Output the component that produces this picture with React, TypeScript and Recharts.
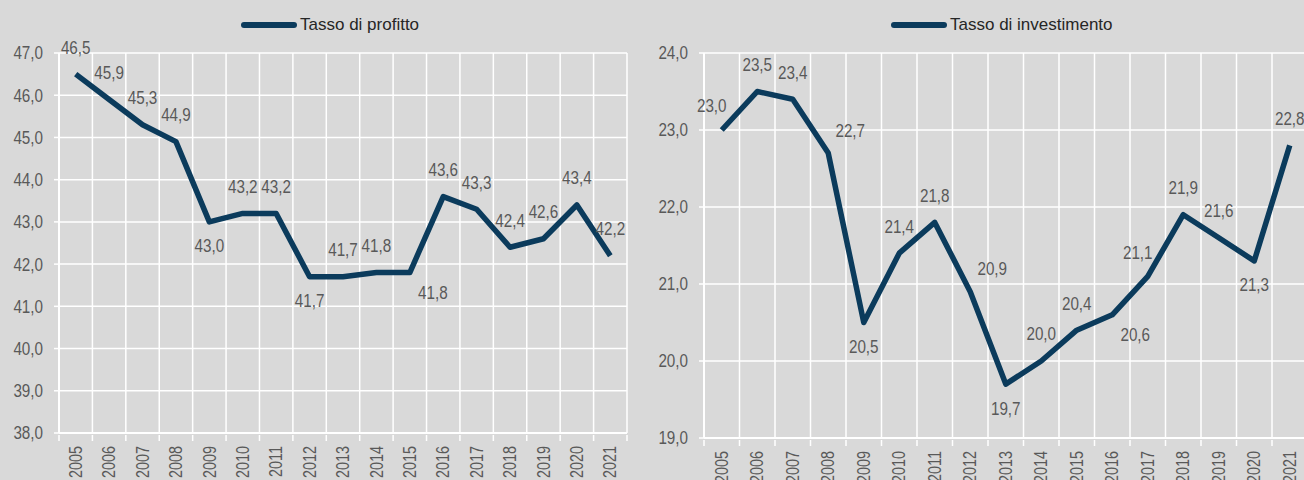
import React from 'react';
import { LineChart, Line, XAxis, YAxis, CartesianGrid } from 'recharts';

const years = ['2005', '2006', '2007', '2008', '2009', '2010', '2011', '2012', '2013', '2014', '2015', '2016', '2017', '2018', '2019', '2020', '2021'];
const profitValues = [46.5, 45.9, 45.3, 44.9, 43.0, 43.2, 43.2, 41.7, 41.7, 41.8, 41.8, 43.6, 43.3, 42.4, 42.6, 43.4, 42.2];
const investValues = [23.0, 23.5, 23.4, 22.7, 20.5, 21.4, 21.8, 20.9, 19.7, 20.0, 20.4, 20.6, 21.1, 21.9, 21.6, 21.3, 22.8];
const profitTicks = [38, 39, 40, 41, 42, 43, 44, 45, 46, 47];
const investTicks = [19, 20, 21, 22, 23, 24];

// where Excel put each data label
const profitLabelPos = ['top', 'top', 'top', 'top', 'bottom', 'top', 'top', 'bottom', 'top', 'top', 'br', 'top', 'top', 'top', 'top', 'top', 'top'];
const investLabelPos = ['tl', 'top', 'top', 'tr', 'bottom', 'top', 'top', 'tr', 'bottom', 'top', 'top', 'br', 'tl', 'top', 'top', 'bottom', 'top'];

const BG = '#d9d9d9';
const LINE = '#0b3b5c';
const TXT = '#595959';
const FONT = "'Liberation Sans', Arial, sans-serif";
// the original uses a narrow face; squeeze the regular one
const NARROW = 0.87;

const fmt = (v: number) => v.toFixed(1).replace('.', ',');

const offsets: Record<string, [number, number]> = {
    top: [0, -27],
    bottom: [0, 24],
    tl: [-10, -24],
    tr: [22, -23],
    br: [23, 20],
};

const makeLabel = (pos: string[]) => (props: any) => {
    const { x, y, value, index } = props;
    const [dx, dy] = offsets[pos[index]] || offsets.top;
    return (
        <text
            key={`lbl-${index}`}
            transform={`translate(${x + dx}, ${y + dy}) scale(${NARROW}, 1)`}
            textAnchor="middle"
            dominantBaseline="central"
            fontSize={17.5}
            fontFamily={FONT}
            fill={TXT}
        >
            {fmt(value)}
        </text>
    );
};

const ValueTick = (props: any) => {
    const { x, y, payload } = props;
    return (
        <text
            transform={`translate(${x}, ${y}) scale(${NARROW}, 1)`}
            textAnchor="end"
            dominantBaseline="central"
            fontSize={17.5}
            fontFamily={FONT}
            fill={TXT}
        >
            {fmt(payload.value)}
        </text>
    );
};

const makeYearTick = (band: number, last: number) => (props: any) => {
    const { x, y, payload, index } = props;
    return (
        <g>
            <line x1={x - band / 2} x2={x - band / 2} y1={y} y2={y + 6} stroke="#ffffff" strokeWidth={1.5} />
            {index === last && (
                <line x1={x + band / 2} x2={x + band / 2} y1={y} y2={y + 6} stroke="#ffffff" strokeWidth={1.5} />
            )}
            <text
                transform={`translate(${x}, ${y + 11}) rotate(-90) scale(0.76, 1)`}
                textAnchor="end"
                dominantBaseline="central"
                fontSize={19}
                fontFamily={FONT}
                fill={TXT}
            >
                {payload.value}
            </text>
        </g>
    );
};

interface PanelProps {
    title: string;
    values: number[];
    labelPos: string[];
    ticks: number[];
    left: number;
    width: number;
    yAxisWidth: number;
    plotWidth: number;
    plotBottom: number;
    legendX: number;
}

const Panel: React.FC<PanelProps> = ({ title, values, labelPos, ticks, left, width, yAxisWidth, plotWidth, plotBottom, legendX }) => {
    const data = years.map((year, i) => ({ year, value: values[i] }));
    const band = plotWidth / years.length;
    return (
        <div style={{ position: 'absolute', left, top: 0, width, height: 480 }}>
            <div
                style={{
                    position: 'absolute',
                    left: legendX - left,
                    top: 15,
                    display: 'flex',
                    alignItems: 'center',
                    fontFamily: FONT,
                    fontSize: 17,
                    color: '#262626',
                    whiteSpace: 'nowrap',
                }}
            >
                <div style={{ width: 56, height: 6, background: LINE, borderRadius: 3, marginRight: 3 }} />
                {title}
            </div>
            <LineChart
                width={width}
                height={480}
                data={data}
                margin={{ top: 53, right: width - yAxisWidth - plotWidth, bottom: 0, left: 0 }}
            >
                <CartesianGrid
                    stroke="#ffffff"
                    strokeWidth={1.5}
                    verticalCoordinatesGenerator={({ offset }: any) =>
                        Array.from({ length: years.length + 1 }, (_, i) => offset.left + (i * offset.width) / years.length)
                    }
                />
                <XAxis
                    dataKey="year"
                    height={480 - plotBottom}
                    interval={0}
                    padding={{ left: band / 2, right: band / 2 }}
                    tickLine={false}
                    tickSize={0}
                    axisLine={{ stroke: '#ffffff', strokeWidth: 2 }}
                    tick={makeYearTick(band, years.length - 1)}
                />
                <YAxis
                    domain={[ticks[0], ticks[ticks.length - 1]]}
                    ticks={ticks}
                    width={yAxisWidth}
                    tickSize={5}
                    tickMargin={11}
                    tickLine={{ stroke: '#ffffff', strokeWidth: 1.5 }}
                    axisLine={{ stroke: '#ffffff', strokeWidth: 2 }}
                    tick={<ValueTick />}
                />
                <Line
                    type="linear"
                    dataKey="value"
                    stroke={LINE}
                    strokeWidth={5.5}
                    strokeLinejoin="round"
                    dot={false}
                    activeDot={false}
                    label={makeLabel(labelPos)}
                    isAnimationActive={false}
                />
            </LineChart>
        </div>
    );
};

export default function App() {
    return (
        <div
            style={{
                position: 'absolute',
                left: 0,
                top: 0,
                width: 1304,
                height: 480,
                overflow: 'hidden',
                background: BG,
            }}
        >
            <Panel
                title="Tasso di profitto"
                values={profitValues}
                labelPos={profitLabelPos}
                ticks={profitTicks}
                left={0}
                width={652}
                yAxisWidth={59}
                plotWidth={568}
                plotBottom={433}
                legendX={241}
            />
            <Panel
                title="Tasso di investimento"
                values={investValues}
                labelPos={investLabelPos}
                ticks={investTicks}
                left={652}
                width={700}
                yAxisWidth={52}
                plotWidth={603.5}
                plotBottom={438}
                legendX={891}
            />
        </div>
    );
}
